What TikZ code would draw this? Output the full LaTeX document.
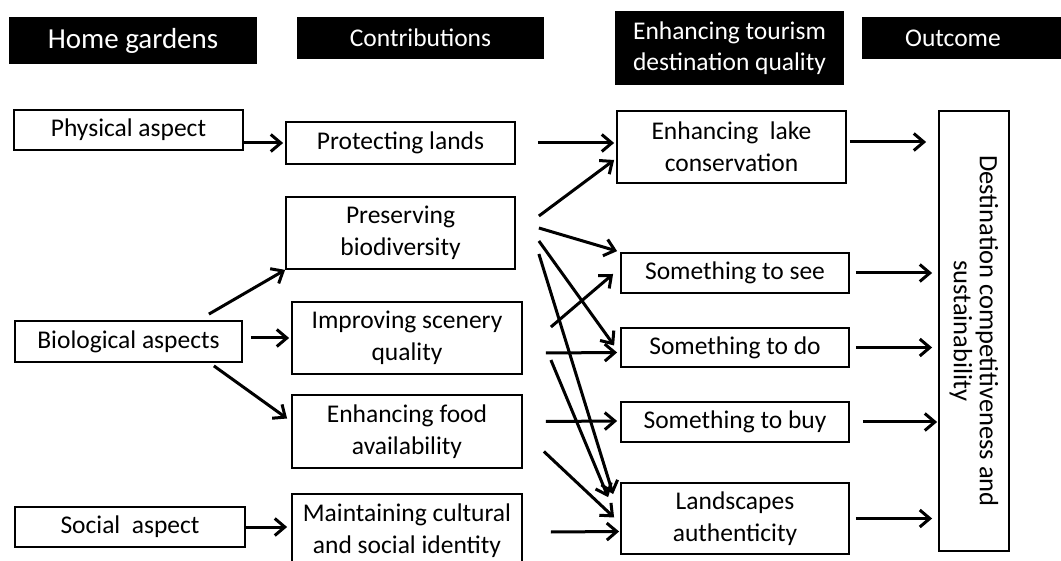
\documentclass[tikz,border=0pt]{standalone}
\usepackage{fontspec}
\setmainfont{Carlito}
\usetikzlibrary{
  arrows.meta,
  calc
}

\begin{document}
\begin{tikzpicture}[
  x=1pt, y=-1pt,
  hdbox/.style={
    fill=black,
    text=white,
    inner sep=0pt,
    font=\fontsize{25.5}{31}\selectfont,
    align=center
  },
  itembox/.style={
    draw=black,
    line width=1.8pt,
    fill=white,
    inner sep=0pt,
    font=\fontsize{25.5}{32}\selectfont,
    minimum width=229,
    align=center
  },
  arr/.style={
    -{Straight Barb[length=10pt,width=17pt,line width=3pt]},
    line width=3pt
  }
]
  \useasboundingbox (0,0) rectangle (1061,561);

  % Column headers
  \node[hdbox, minimum width=248, minimum height=47, font=\fontsize{29}{35}\selectfont] (hg) at (133,40.5) {Home gardens};
  \node[hdbox, minimum width=247, minimum height=42] (contr) at (420.5,38) {Contributions};
  \node[hdbox, minimum width=229, minimum height=74] (tour) at (729.5,48) {Enhancing tourism\\destination quality};
  \node[hdbox, minimum width=182, minimum height=42] (outh) at (953,38) {Outcome};
  \fill (outh.north east) rectangle ([xshift=30pt]outh.south east);

  % Home garden aspects
  \node[itembox, minimum height=40] (phys) at (128.5,130) {Physical aspect};
  \node[itembox, minimum width=227, minimum height=41] (bio) at (128.5,341.5) {Biological aspects};
  \node[itembox, minimum width=230, minimum height=40] (soc) at (130,527) {Social~ aspect};

  % Contributions
  \node[itembox, minimum height=42] (prot) at (400.5,143) {Protecting lands};
  \node[itembox, minimum height=72] (pres) at (400.5,233) {Preserving\\biodiversity};
  \node[itembox, minimum width=230, minimum height=72] (scen) at (407,338) {Improving scenery\\quality};
  \node[itembox, minimum width=230, minimum height=73] (food) at (407,431.5) {Enhancing food\\availability};
  \node[itembox, minimum width=230, minimum height=74] (cult) at (407,531) {Maintaining cultural\\and social identity};

  % Destination quality
  \node[itembox, minimum height=72] (lake) at (731.5,147) {Enhancing~~lake\\conservation};
  \node[itembox, minimum width=228, minimum height=40] (tosee) at (735,273) {Something to see};
  \node[itembox, minimum width=228, minimum height=39] (todo) at (735,347.5) {Something to do};
  \node[itembox, minimum width=228, minimum height=40] (tobuy) at (735,422) {Something to buy};
  \node[itembox, minimum width=228, minimum height=71] (land) at (735,518.5) {Landscapes\\authenticity};

  % Outcome
  \node[itembox, minimum width=70, minimum height=440] (outc) at (974,331) {};
  \node[rotate=-90, inner sep=0pt, align=center, font=\fontsize{26.5}{26}\selectfont] (outctxt) at (outc.center)
    {Destination competitiveness and\\sustainability};

  % Aspects -> contributions
  \draw[arr, shorten >=2pt] (phys.east |- prot.west) -- (prot.west);
  \draw[arr] ($(bio.north east)+(-34,-6)$) -- (pres.south west);
  \draw[arr, shorten <=8pt, shorten >=2pt] (bio.east |- scen.west) -- (scen.west);
  \draw[arr] ($(bio.south east)+(-29,3)$) -- ($(food.west)+(-4,-13)$);
  \draw[arr, shorten >=4pt] (soc.east) -- (soc.east -| cult.west);

  % Contributions -> destination quality
  \draw[arr, shorten <=22pt, shorten >=2pt] (prot.east) -- (prot.east -| lake.west);
  \draw[arr] ($(pres.east)+(23,-17)$) -- ($(lake.west)+(-2,13)$);
  \draw[arr] ($(pres.east)+(23,-5)$) -- ($(tosee.north west)+(-3,-1)$);
  \draw[arr] ($(pres.east)+(23,8)$) -- ($(todo.west)+(-6,-2)$);
  \draw[arr] ($(pres.east)+(23,21)$) -- ($(land.north west)+(-7,12)$);
  \draw[arr] ($(scen.east)+(28,-11)$) -- ($(tosee.west)+(-7,1)$);
  \draw[arr] ($(scen.east)+(23,15)$) -- ($(todo.west)+(-3,5)$);
  \draw[arr] ($(scen.east)+(28,22)$) -- ($(land.north west)+(-12,15)$);
  \draw[arr] ($(food.east)+(23,-10)$) -- ($(tobuy.west)+(-3,-1)$);
  \draw[arr] ($(food.east)+(21,20)$) -- ($(land.west)+(-6,-1)$);
  \draw[arr] ($(cult.east)+(28,1)$) -- ($(land.west)+(-1,13)$);

  % Destination quality -> outcome
  \path ([yshift=5pt]lake.east) coordinate (lakeout);
  \draw[arr, shorten <=3pt, shorten >=12pt] (lakeout) -- (lakeout -| outc.west);
  \draw[arr, shorten <=6pt, shorten >=6pt] (tosee.east) -- (tosee.east -| outc.west);
  \draw[arr, shorten <=6pt, shorten >=6pt] (todo.east) -- (todo.east -| outc.west);
  \draw[arr, shorten <=13pt, shorten >=1pt] (tobuy.east) -- (tobuy.east -| outc.west);
  \draw[arr, shorten <=6pt, shorten >=6pt] (land.east) -- (land.east -| outc.west);
\end{tikzpicture}
\end{document}
